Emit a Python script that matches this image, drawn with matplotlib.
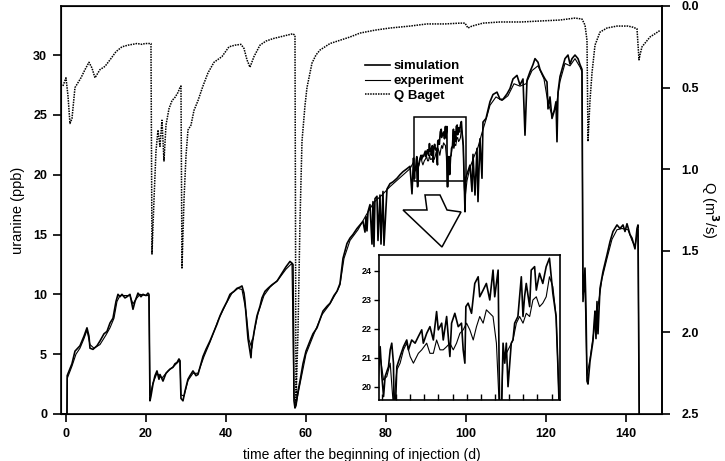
import matplotlib
matplotlib.use("Agg")
import matplotlib.pyplot as plt
from matplotlib.patches import Polygon, Rectangle
import numpy as np

plt.rcParams['font.family'] = ['Liberation Sans', 'DejaVu Sans']
plt.rcParams['font.weight'] = 'bold'

# === Data ===
# simulation (uranine, ppb) - spiky curve
sim_day = [-1.0, 0.25, 0.3, 1.5, 2.25, 3.5, 4.5, 5.25, 5.75, 6.0, 6.75, 7.75, 8.5, 9.5, 10.25,
           11.0, 11.75, 12.5, 13.0, 13.5, 14.0, 14.75, 15.25, 16.0, 16.75, 17.25, 18.0, 18.75,
           19.25, 20.0, 20.5, 20.75, 21.0, 21.25, 21.75, 22.25, 22.75, 23.25, 23.5, 24.25, 25.0,
           26.0, 26.75, 27.25, 27.75, 28.25, 28.5, 28.75, 29.25, 29.75, 30.5, 31.0, 31.75, 32.5,
           33.0, 33.5, 34.25, 35.0, 36.0, 37.0, 37.75, 38.5, 39.25, 40.25, 41.0, 42.0, 42.75,
           43.5, 44.0, 44.5, 44.75, 45.25, 45.5, 46.0, 46.25, 46.5, 46.75, 47.25, 47.75, 48.5,
           49.0, 49.75, 50.5, 51.5, 52.75, 53.5, 54.25, 55.0, 56.0, 56.5, 56.75, 57.0, 57.25,
           57.5, 58.0, 58.5, 59.25, 60.0, 61.0, 61.75, 62.75, 63.5, 64.25, 65.25, 66.0, 67.0,
           67.75, 68.5, 69.25, 70.25, 71.0, 71.75, 72.75, 73.5, 74.25, 74.75, 75.0, 75.25, 75.5,
           76.0, 76.5, 76.75, 77.0, 77.25, 77.75, 78.0, 78.5, 78.75, 79.25, 79.5, 80.25, 81.0,
           81.75, 82.75, 83.5, 84.25, 85.25, 86.0, 86.5, 86.88,
           87.0, 87.12, 87.23, 87.47, 87.59, 87.7, 87.82, 87.87, 87.94, 88.06, 88.29, 88.53,
           88.76, 88.88, 89.11, 89.35, 89.58, 89.82, 89.93, 90.17, 90.4, 90.64, 90.87, 90.99,
           91.23, 91.34, 91.58, 91.81, 91.93, 92.16, 92.4, 92.63, 92.75, 92.87, 92.94, 93.1,
           93.34, 93.57, 93.81, 93.92, 94.16, 94.39, 94.63, 94.86, 94.98, 95.22, 95.33, 95.45,
           95.57, 95.69, 95.8, 95.92, 96.04, 96.15, 96.27, 96.39, 96.62, 96.86, 96.98, 97.09,
           97.21, 97.45, 97.56, 97.8, 97.92, 98.15, 98.38, 98.62, 98.85, 99.09, 99.32, 99.44,
           99.56, 99.75, 99.9, 101.0, 101.5, 101.75, 102.25, 102.75, 103.0, 103.5, 104.0, 104.25,
           105.0, 106.0, 106.75, 107.75, 108.5, 109.25, 110.25, 111.0, 111.75, 112.75, 113.5,
           114.25, 114.75, 115.25, 116.0, 116.75, 117.25, 118.0, 118.5, 119.25, 119.75, 120.25,
           120.5, 121.0, 121.5, 122.0, 122.5, 122.75, 123.0, 123.5, 124.0, 124.75, 125.5, 126.0,
           126.5, 127.25, 128.0, 128.5, 129.0, 129.25, 129.75, 130.0, 130.25, 130.5, 131.0,
           131.75, 132.0, 132.25, 132.5, 132.75, 133.0, 133.5, 134.25, 135.25, 136.0, 136.75,
           137.75, 138.5, 139.25, 139.75, 140.25, 141.0, 141.5, 142.25, 142.75, 143.0, 143.3]
sim_ppb = [0.0, 0.0, 3.2, 4.2, 5.25, 5.7, 6.5, 7.2, 6.5, 5.5, 5.4, 5.7, 6.1, 6.7, 6.9,
           7.6, 8.0, 9.4, 10.0, 9.8, 10.0, 9.7, 9.8, 10.0, 8.75, 9.4, 10.1, 9.8,
           10.0, 9.9, 10.1, 10.0, 1.1, 1.5, 2.5, 3.2, 3.6, 2.9, 3.3, 2.75, 3.4,
           3.75, 3.9, 4.2, 4.3, 4.6, 4.4, 1.3, 1.1, 1.9, 2.9, 3.2, 3.6, 3.2,
           3.3, 3.9, 4.8, 5.4, 6.1, 6.9, 7.5, 8.2, 8.75, 9.4, 10.0, 10.25, 10.5,
           10.6, 10.7, 10.1, 9.4, 7.3, 6.3, 5.25, 4.7, 6.1, 6.3, 7.3, 8.2, 9.0,
           9.7, 10.25, 10.5, 10.8, 11.1, 11.5, 11.9, 12.3, 12.75, 12.6, 12.5, 1.1, 0.5,
           0.7, 1.9, 2.75, 4.2, 5.25, 6.1, 6.7, 7.2, 7.9, 8.6, 9.0, 9.25, 9.9,
           10.25, 10.9, 13.0, 14.25, 14.7, 15.0, 15.5, 15.8, 16.1, 15.2, 16.5, 15.3, 16.9,
           17.5, 14.2, 17.75, 14.0, 18.0, 18.2, 14.5, 18.3, 14.2, 18.6, 14.1, 18.8, 19.25,
           19.4, 19.7, 20.0, 20.25, 20.5, 20.7, 18.4, 21.39,
           20.36, 19.67, 20.36, 20.7, 21.28, 21.51, 20.82, 19.0, 19.0, 20.7, 21.05, 21.39,
           21.62, 21.28, 21.62, 21.51, 21.74, 21.97, 21.51, 21.85, 22.08, 21.62, 22.6, 21.97,
           22.2, 21.62, 22.43, 21.05, 22.2, 22.54, 22.08, 22.2, 21.28, 20.82, 22.77, 22.89,
           22.54, 23.57, 23.8, 23.11, 23.34, 23.57, 23.0, 24.03, 23.11, 24.03, 19.0, 19.0,
           21.51, 20.82, 21.51, 20.01, 20.82, 21.51, 21.62, 22.2, 22.43, 23.8, 22.43, 23.11,
           23.57, 22.77, 24.03, 24.15, 23.34, 23.92, 23.57, 24.15, 24.44, 23.23, 22.43, 20.82,
           19.0, 16.9, 19.7, 20.8, 18.6, 21.7, 18.3, 22.2, 17.75, 23.0, 19.7, 24.4,
           24.7, 26.1, 26.7, 26.9, 26.3, 26.3, 26.75, 27.2, 28.0, 28.3, 27.5,
           28.0, 23.3, 27.9, 28.6, 29.2, 29.7, 29.4, 28.8, 28.3, 28.0, 27.75,
           25.5, 26.5, 24.7, 25.25, 26.1, 22.75, 26.9, 28.2, 28.8, 29.7, 30.0, 29.25,
           29.7, 30.0, 29.7, 29.2, 28.8, 9.4, 12.2, 8.8, 2.75, 2.5, 4.4,
           6.1, 7.5, 8.6, 6.3, 9.4, 6.7, 10.5, 11.9, 13.3, 14.4, 15.25,
           15.8, 15.5, 15.8, 15.25, 15.9, 15.0, 14.7, 13.8, 15.5, 15.8, 0.0]

# experiment (uranine, ppb) - smoother curve
exp_day = [-1.0, 0.25, 0.35, 1.5, 2.5, 3.5, 4.5, 5.25, 6.0, 7.0, 8.5, 10.0, 11.0, 12.0, 12.75,
           13.5, 15.0, 16.0, 16.75, 17.5, 18.5, 20.0, 20.75, 21.0, 21.75, 22.75, 24.0, 25.5,
           27.0, 28.5, 28.75, 29.5, 30.5, 31.75, 33.0, 34.5, 36.0, 38.0, 40.0, 41.5, 43.0, 44.0,
           45.0, 45.75, 46.5, 47.0, 48.0, 49.5, 51.0, 53.0, 55.0, 56.5, 57.0, 57.5, 58.5, 60.0,
           62.0, 64.0, 66.0, 68.0, 68.5, 69.5, 71.0, 73.0, 75.0, 77.0, 79.0, 81.0, 83.0, 85.0,
           86.0, 86.88, 87.12, 87.35, 87.59, 87.82, 88.06, 88.29, 88.53, 88.76, 89.0, 89.23,
           89.58, 89.82, 90.17, 90.4, 90.64, 90.87, 91.11, 91.34, 91.58, 91.81, 92.05, 92.28,
           92.52, 92.75, 92.99, 93.22, 93.46, 93.69, 93.92, 94.16, 94.39, 94.63, 94.86, 95.1,
           95.33, 95.45, 95.57, 95.8, 96.04, 96.27, 96.51, 96.74, 96.98, 97.21, 97.45, 97.68,
           97.92, 98.15, 98.38, 98.62, 98.85, 99.09, 99.32, 99.44, 99.56, 99.75, 100.25, 101.0,
           102.0, 103.0, 104.0, 105.0, 106.0, 107.5, 109.0, 110.5, 112.0, 113.5, 115.0, 116.5,
           118.0, 119.5, 120.5, 121.5, 122.5, 123.5, 124.75, 126.0, 127.25, 128.5, 129.0,
           129.25, 129.75, 130.25, 131.0, 132.0, 133.0, 134.0, 135.25, 136.5, 137.75, 139.0,
           140.5, 141.5, 142.25, 143.0, 143.3]
exp_ppb = [0.0, 0.0, 3.0, 4.0, 5.0, 5.5, 6.3, 7.0, 5.8, 5.5, 5.8, 6.6, 7.2, 8.0, 9.4,
           9.9, 9.9, 9.9, 9.2, 9.6, 10.0, 9.9, 9.9, 1.5, 2.6, 3.4, 3.0, 3.6,
           4.0, 4.5, 1.6, 1.5, 2.8, 3.4, 3.4, 4.8, 6.0, 7.8, 9.2, 10.1, 10.5, 10.4,
           8.6, 6.2, 5.5, 6.8, 8.4, 9.9, 10.6, 11.2, 12.1, 12.6, 1.5, 0.8, 2.5, 5.0,
           6.7, 8.3, 9.2, 10.4, 10.8, 13.0, 14.5, 15.4, 16.6, 17.7, 18.3, 19.0, 19.6, 20.2,
           20.5, 21.05, 20.24, 20.36, 20.82, 19.3, 20.59, 20.82, 21.28, 21.51, 21.05, 20.82,
           21.16, 21.28, 21.51, 21.16, 21.16, 21.62, 21.28, 21.28, 21.39, 21.51, 21.28, 21.51,
           21.85, 21.97, 22.2, 21.97, 21.62, 22.08, 22.43, 22.2, 22.66, 22.54, 22.43, 21.51,
           19.0, 19.0, 21.16, 21.16, 21.39, 21.62, 22.2, 22.43, 22.2, 22.54, 22.43, 23.0,
           23.11, 22.77, 22.89, 23.11, 23.8, 23.46, 22.43, 20.82, 19.0, 18.0, 19.5, 20.6,
           21.5, 22.3, 23.5, 24.6, 25.8, 26.5, 26.2, 26.6, 27.6, 27.4, 27.6, 28.7,
           29.1, 28.0, 26.0, 25.0, 25.6, 27.8, 29.3, 29.1, 29.7, 29.0, 28.6,
           10.0, 10.5, 3.2, 4.6, 7.0, 9.0, 11.3, 13.0, 14.6, 15.4, 15.5,
           15.4, 14.5, 14.0, 15.4, 0.0]

# discharge Q Baget (m3/s), right axis
q_day = [-0.75, 0.0, 0.5, 1.0, 1.5, 2.25, 3.0, 3.75, 4.75, 5.75, 6.5, 7.25, 8.5, 9.75, 11.0,
         12.5, 14.0, 15.5, 17.75, 19.0, 19.75, 21.0, 21.25, 21.5, 22.0, 22.5, 23.0, 23.5,
         24.0, 24.5, 25.0, 25.75, 26.5, 27.25, 28.0, 28.5, 28.75, 29.0, 29.5, 30.0, 30.5,
         31.25, 32.0, 33.0, 34.25, 35.5, 37.0, 39.0, 40.75, 42.25, 43.75, 44.5, 45.25, 46.0,
         47.0, 48.5, 50.0, 51.75, 54.25, 56.75, 57.25, 57.5, 58.0, 58.5, 59.0, 59.75, 60.25,
         61.0, 61.5, 62.5, 63.5, 66.0, 68.5, 71.0, 73.5, 77.25, 81.0, 86.0, 90.25, 94.75,
         98.5, 99.75, 100.5, 101.5, 104.25, 108.5, 113.75, 118.5, 123.5, 127.25, 129.0,
         129.75, 130.25, 130.5, 131.0, 131.5, 132.25, 133.5, 135.25, 137.75, 140.5, 141.75,
         142.75, 143.25, 143.5, 144.0, 146.0, 148.5]
q_val = [0.49, 0.44, 0.55, 0.72, 0.69, 0.5, 0.47, 0.44, 0.39, 0.345, 0.38, 0.44, 0.39, 0.37, 0.33,
         0.28, 0.25, 0.24, 0.23, 0.235, 0.23, 0.23, 0.23, 1.52, 1.19, 0.89, 0.76, 0.86,
         0.7, 0.95, 0.73, 0.63, 0.58, 0.56, 0.53, 0.5, 0.49, 1.61, 1.19, 0.92, 0.76,
         0.73, 0.64, 0.58, 0.49, 0.41, 0.345, 0.31, 0.25, 0.24, 0.235, 0.26, 0.33, 0.375,
         0.31, 0.24, 0.215, 0.2, 0.185, 0.17, 0.18, 2.43, 2.0, 1.32, 0.83, 0.61, 0.5,
         0.41, 0.35, 0.3, 0.27, 0.23, 0.21, 0.19, 0.166, 0.148, 0.135, 0.123, 0.11, 0.11,
         0.105, 0.105, 0.135, 0.123, 0.105, 0.098, 0.098, 0.092, 0.086, 0.074, 0.08,
         0.117, 0.21, 0.83, 0.58, 0.41, 0.24, 0.16, 0.135, 0.123, 0.123, 0.13,
         0.14, 0.33, 0.3, 0.25, 0.19, 0.15]

x_ticks = [0, 20, 40, 60, 80, 100, 120, 140]
y_ticks = [0, 5, 10, 15, 20, 25, 30]
q_ticks = [0.0, 0.5, 1.0, 1.5, 2.0, 2.5]
inset_xticks = list(range(87, 100))
inset_yticks = [20, 21, 22, 23, 24]

# === Figure ===
fig = plt.figure(figsize=(7.25, 4.61), dpi=100)
ax = fig.add_axes([0.0841, 0.102, 0.829, 0.885])

ax.plot(sim_day, sim_ppb, color='black', lw=1.2, label='simulation')
ax.plot(exp_day, exp_ppb, color='black', lw=0.8, label='experiment')
ax.set_xlim(-1.25, 149)
ax.set_ylim(0, 34.1)
ax.set_xticks(x_ticks)
ax.set_yticks(y_ticks)
ax.tick_params(axis='both', direction='out', length=6, width=1.2, labelsize=9, pad=4)
for s in ax.spines.values():
    s.set_linewidth(1.2)
ax.set_xlabel('time after the beginning of injection (d)', fontsize=10, labelpad=6)
ax.set_ylabel('uranine (ppb)', fontsize=10.5, labelpad=6)

ax2 = ax.twinx()
ax2.plot(q_day, q_val, color='black', lw=1.1, ls=(0, (1, 0.7)), label='Q Baget')
ax2.set_ylim(2.5, 0.0)
ax2.set_yticks(q_ticks)
ax2.set_yticklabels([f'{v:.1f}' for v in q_ticks])
ax2.tick_params(axis='y', direction='out', length=6, width=1.2, labelsize=9, pad=8)
ax2.spines['right'].set_linewidth(1.2)
ax2.set_ylabel('Q (m$^\\mathbf{3}$/s)', fontsize=10.5, rotation=270, labelpad=16)

# legend
h1, l1 = ax.get_legend_handles_labels()
h2, l2 = ax2.get_legend_handles_labels()
ax2.legend(h1 + h2, l1 + l2, loc='upper left', bbox_to_anchor=(0.49, 0.89), frameon=False,
           fontsize=9.5, handlelength=1.9, handletextpad=0.3, labelspacing=0.2,
           borderpad=0.2)

# zoom box on the main chart
ax.add_patch(Rectangle((87, 19.5), 13, 5.3, fill=False, ec='black', lw=1.1, zorder=5))

# hollow arrow pointing to the inset
arrow = [(0.6057, 0.5368), (0.6306, 0.5368), (0.6423, 0.5), (0.6656, 0.4951),
         (0.6339, 0.4093), (0.5691, 0.5), (0.609, 0.5)]
ax.add_patch(Polygon(arrow, closed=True, fill=True, fc='white', ec='black', lw=1.1,
                     transform=ax.transAxes, zorder=6))

# inset
axi = fig.add_axes([0.5228, 0.1323, 0.2497, 0.3145])
axi.plot(sim_day, sim_ppb, color='black', lw=1.2)
axi.plot(exp_day, exp_ppb, color='black', lw=0.8)
axi.set_xlim(86.8, 99.6)
axi.set_ylim(19.55, 24.55)
axi.set_xticks(inset_xticks)
axi.set_xticklabels([])
axi.set_yticks(inset_yticks)
axi.tick_params(axis='x', direction='in', length=4, width=1.0)
axi.tick_params(axis='y', direction='out', length=3.5, width=1.0, labelsize=6.5, pad=2)
for s in axi.spines.values():
    s.set_linewidth(1.2)

fig.savefig('out.png', dpi=100)
